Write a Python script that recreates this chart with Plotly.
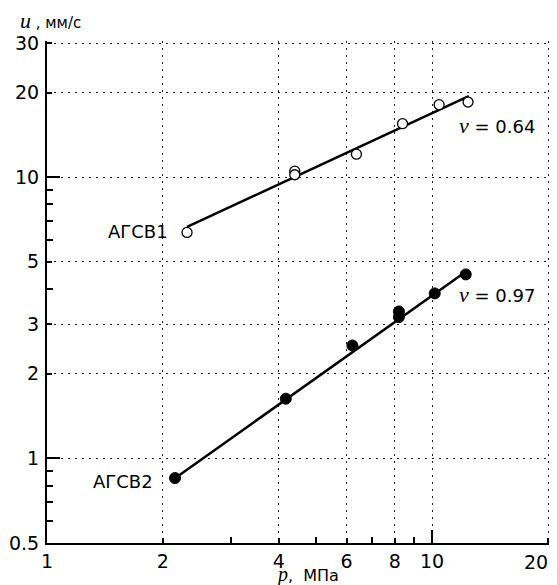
import plotly.graph_objects as go
import math

# --- data ---
p_agsv1 = [2.31, 4.40, 4.40, 6.36, 8.38, 10.43, 12.4]
u_agsv1 = [6.36, 10.5, 10.2, 12.07, 15.5, 18.1, 18.5]
fit1_p = [2.31, 12.45]
fit1_u = [6.65, 19.4]

p_agsv2 = [2.15, 4.17, 6.21, 8.20, 8.20, 10.16, 12.23]
u_agsv2 = [0.851, 1.63, 2.52, 3.33, 3.18, 3.86, 4.51]
fit2_p = [2.15, 12.2]
fit2_u = [0.85, 4.60]

x_ticks = [1, 2, 4, 6, 8, 10, 20]
x_tick_text = ["1", "2", "4", "6", "8", "10", ""]   # "20" drawn as an annotation (kept inside window)
x_last_label = "20"
x_minor = [3, 5, 7, 9]
y_ticks = [0.5, 1, 2, 3, 5, 10, 20, 30]
y_tick_text = ["0.5", "1", "2", "3", "5", "10", "20", "30"]
y_minor = [0.6, 0.7, 0.8, 0.9, 4, 6, 7, 8, 9]
x_long = [10]
y_long = [1, 10]

# small headroom so the edge gridlines (x=20, y=30) stay visible
xr = [0, math.log10(20) + 0.0052]
yr = [math.log10(0.5), math.log10(30) + 0.0071]

FONT = "DejaVu Sans, Verdana, sans-serif"
SERIF = "Liberation Serif, Times New Roman, serif"

fig = go.Figure()
fig.add_trace(go.Scatter(x=fit1_p, y=fit1_u, mode="lines",
                         line=dict(color="black", width=2.5), hoverinfo="skip"))
fig.add_trace(go.Scatter(x=fit2_p, y=fit2_u, mode="lines",
                         line=dict(color="black", width=2.5), hoverinfo="skip"))
fig.add_trace(go.Scatter(x=p_agsv1, y=u_agsv1, mode="markers",
                         marker=dict(symbol="circle", size=10, color="white",
                                     line=dict(color="black", width=1.3))))
fig.add_trace(go.Scatter(x=p_agsv2, y=u_agsv2, mode="markers",
                         marker=dict(symbol="circle", size=11, color="black",
                                     line=dict(color="black", width=1))))
# invisible trace for overlay tick axes
fig.add_trace(go.Scatter(x=fit2_p, y=fit2_u, xaxis="x2", yaxis="y2", mode="lines",
                         line=dict(color="rgba(0,0,0,0)"), hoverinfo="skip"))

GRIDCOL = "#222"
GRIDDASH = "2px,5px"
grid = dict(showgrid=True, gridcolor=GRIDCOL, gridwidth=1.3, griddash=GRIDDASH)

# page body has an 8px default margin; size the figure to fit the window
fig.update_layout(
    width=549, height=577,
    margin=dict(l=39, r=7, t=33, b=42),
    paper_bgcolor="white", plot_bgcolor="white",
    showlegend=False,
    font=dict(family=FONT, size=18, color="black"),
    xaxis=dict(type="log", range=xr, tickvals=x_ticks, ticktext=x_tick_text,
               automargin=False, ticklabeloverflow="allow",
               ticks="inside", ticklen=5, tickwidth=1.5, tickcolor="black",
               showline=True, linecolor="black", linewidth=2, zeroline=False,
               tickfont=dict(size=19, family=FONT),
               minor=dict(tickvals=x_minor, ticks="inside", ticklen=6,
                          tickwidth=1.5, tickcolor="black", showgrid=False),
               **grid),
    yaxis=dict(type="log", range=yr, tickvals=y_ticks, ticktext=y_tick_text,
               automargin=False, ticklabeloverflow="allow",
               ticks="inside", ticklen=5, tickwidth=1.5, tickcolor="black",
               showline=True, linecolor="black", linewidth=2, zeroline=False,
               tickfont=dict(size=19, family=FONT), ticklabelstandoff=2,
               minor=dict(tickvals=y_minor, ticks="inside", ticklen=6,
                          tickwidth=1.5, tickcolor="black", showgrid=False),
               **grid),
    xaxis2=dict(type="log", range=xr, overlaying="x", anchor="y", side="bottom",
                automargin=False,
                tickvals=x_long, ticks="inside", ticklen=13, tickwidth=1.8,
                tickcolor="black", showticklabels=False, showgrid=False,
                showline=False, zeroline=False),
    yaxis2=dict(type="log", range=yr, overlaying="y", anchor="x", side="left",
                automargin=False,
                tickvals=y_long, ticks="inside", ticklen=13, tickwidth=1.8,
                tickcolor="black", showticklabels=False, showgrid=False,
                showline=False, zeroline=False),
)

ann = [
    dict(x=0.2445, y=0.6215, text="АГСВ1", xanchor="right", yanchor="middle",
         font=dict(size=18, family=FONT)),
    dict(x=0.2147, y=0.1235, text="АГСВ2", xanchor="right", yanchor="middle",
         font=dict(size=18, family=FONT)),
    dict(x=0.815, y=0.8307,
         text=f"<span style='font-family:{SERIF};font-size:22px'><i>ν</i></span> = 0.64",
         xanchor="left", yanchor="middle", font=dict(size=18, family=FONT)),
    dict(x=0.815, y=0.496,
         text=f"<span style='font-family:{SERIF};font-size:22px'><i>ν</i></span> = 0.97",
         xanchor="left", yanchor="middle", font=dict(size=18, family=FONT)),
    dict(x=-0.0577, y=1.040,
         text=f"<span style='font-family:{SERIF};font-size:22px'><i>u</i></span> , мм/с",
         xanchor="left", yanchor="middle", font=dict(size=15, family=FONT)),
    dict(x=0.517, y=-0.0625,
         text=f"<span style='font-family:{SERIF};font-size:20px'><i>p</i></span>,  МПа",
         xanchor="center", yanchor="middle", font=dict(size=16, family=FONT)),
    dict(x=1.0, y=-0.0375, text=x_last_label, xanchor="right", yanchor="middle",
         font=dict(size=19, family=FONT)),
]
for a in ann:
    a.update(xref="paper", yref="paper", showarrow=False)
fig.update_layout(annotations=ann)

fig.write_html("out.html")
